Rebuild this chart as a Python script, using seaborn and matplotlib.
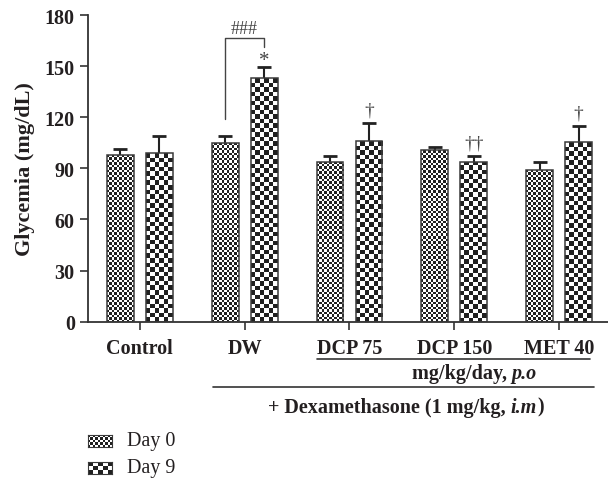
import numpy as np
import pandas as pd
import matplotlib
matplotlib.use('Agg')
import matplotlib.pyplot as plt
import matplotlib.transforms as mtransforms
import seaborn as sns

# ── Data ──────────────────────────────────────────────────────────
groups = ["Control", "DW", "DCP 75", "DCP 150", "MET 40"]
days = ["Day 0", "Day 9"]
day0_mean = [98, 105, 94, 100.5, 89]
day0_err = [3.5, 3.7, 3.5, 2.2, 5.0]
day9_mean = [99, 143, 106, 94, 105.5]
day9_err = [10, 6.5, 10.5, 3.5, 9.5]
day9_marks = ["", "*", "\u2020", "\u2020\u2020", "\u2020"]

df = pd.DataFrame({
    "group": groups * 2,
    "day": [days[0]] * 5 + [days[1]] * 5,
    "glycemia": day0_mean + day9_mean,
})

# ── Style ─────────────────────────────────────────────────────────
sns.set_style("ticks")
plt.rcParams['font.family'] = ['Liberation Serif', 'DejaVu Serif']
TXT = '#231f20'
LINE = '#333333'
MARK = '#444444'

fig = plt.figure(figsize=(6.08, 4.81), dpi=100)
ax = fig.add_axes([88 / 608, (481 - 322.7) / 481, 1 - 88 / 608, 306.7 / 481])

sns.barplot(data=df, x="group", y="glycemia", hue="day", hue_order=days,
            order=groups, errorbar=None, width=0.743, gap=0.31,
            legend=False, ax=ax)

ax.set_ylim(0, 180)
ax.set_xlim(-0.495, 4.467)
ax.set_yticks(np.arange(0, 181, 30))
ax.set_xlabel("")
ax.set_ylabel("Glycemia (mg/dL)", fontsize=16, fontweight='bold', color=TXT, labelpad=7)
ax.tick_params(axis='both', labelsize=14.5, colors=LINE, labelcolor=TXT,
               length=6, width=1.2)
ax.tick_params(axis='x', pad=6)
for lab in ax.get_xticklabels() + ax.get_yticklabels():
    lab.set_fontweight('bold')
for s in ['top', 'right']:
    ax.spines[s].set_visible(False)
for s in ['left', 'bottom']:
    ax.spines[s].set_color(LINE)
    ax.spines[s].set_linewidth(1.3)

fig.canvas.draw()
renderer = fig.canvas.get_renderer()


# ── Fill patterns ─────────────────────────────────────────────────
def checker(ny, nx):
    return (np.add.outer(np.arange(ny), np.arange(nx)) % 2).astype(float)


cells = [2.5, 4.5]   # checker square size in pixels: fine for Day 0, coarse for Day 9


def fill_checker(patch, cell):
    bb = patch.get_window_extent()
    nx = max(1, int(round(bb.width / cell)))
    ny = max(1, int(round(bb.height / cell)))
    x0, y0 = patch.get_x(), patch.get_y()
    w, h = patch.get_width(), patch.get_height()
    im = ax.imshow(checker(ny, nx), cmap='gray', vmin=-0.15, vmax=1,
                   extent=(x0, x0 + w, y0, y0 + h), origin='lower',
                   aspect='auto', interpolation='nearest', zorder=2)
    im.set_clip_path(patch)
    patch.set_facecolor('none')
    patch.set_edgecolor('#3a3a3a')
    patch.set_linewidth(1.1)
    patch.set_zorder(3)


centers = []
for cont, cell in zip(ax.containers, cells):
    xs = []
    for p in cont.patches:
        fill_checker(p, cell)
        xs.append(p.get_x() + p.get_width() / 2)
    centers.append(xs)

ax.set_xlim(-0.495, 4.467)
ax.set_ylim(0, 180)

# error bars (lower half hidden behind bars)
for xs, m, e in [(centers[0], day0_mean, day0_err), (centers[1], day9_mean, day9_err)]:
    ax.errorbar(xs, m, yerr=e, fmt='none', ecolor='#222222', elinewidth=1.5,
                capsize=4.7, capthick=2, zorder=1)

# significance marks
for x, m, e, t in zip(centers[1], day9_mean, day9_err, day9_marks):
    if t == '*':
        ax.text(x, m + e - 2.0, t, ha='center', va='bottom', fontsize=15, color=MARK)
    elif t:
        ax.text(x, m + e + 2.5, t, ha='center', va='bottom', fontsize=14, color=MARK)

# ### bracket on DW
xa, xb = centers[0][1], centers[1][1]
top = day9_mean[1] + day9_err[1] + 17
ax.plot([xa, xa, xb, xb], [day0_mean[1] + day0_err[1] + 10, top, top, top - 5.5],
        color=MARK, lw=1.0, zorder=4)
ax.text((xa + xb) / 2, top + 0.3, "###", ha='center', va='bottom', fontsize=13,
        color=MARK)


# ── Group annotations under the x axis ────────────────────────────
trans = mtransforms.blended_transform_factory(ax.transData, ax.transAxes)


def mixed_text(xc, y, pieces, size=14.5):
    # draw bold pieces side by side (some italic), centred on xc
    arts = [ax.text(0, y, s, transform=trans, ha='left', va='center', fontsize=size,
                    fontweight='bold', fontstyle='italic' if it else 'normal', color=TXT)
            for s, it in pieces]
    widths = [a.get_window_extent(renderer).width for a in arts]
    x_px = ax.transData.transform((xc, 0))[0] - sum(widths) / 2
    for a, w in zip(arts, widths):
        a.set_x(ax.transData.inverted().transform((x_px, 0))[0])
        x_px += w


ax.plot([1.69, 4.30], [-0.122, -0.122], transform=trans, clip_on=False,
        color=LINE, lw=1.2)
ax.plot([0.70, 4.33], [-0.213, -0.213], transform=trans, clip_on=False,
        color=LINE, lw=1.2)
mixed_text(3.19, -0.166, [("mg/kg/day, ", False), ("p.o", True)])
mixed_text(2.54, -0.277, [("+ Dexamethasone (1 mg/kg, ", False), ("i.m", True), (")", False)])

# ── Legend ────────────────────────────────────────────────────────
for i, (label, cell) in enumerate(zip(days, cells)):
    ytop = 436 + i * 27
    sax = fig.add_axes([88 / 608, (481 - ytop - 12) / 481, 24 / 608, 12 / 481])
    sax.imshow(checker(int(round(12 / cell)), int(round(24 / cell))), cmap='gray',
               vmin=-0.15, vmax=1, aspect='auto', interpolation='nearest')
    sax.set_xticks([])
    sax.set_yticks([])
    for s in sax.spines.values():
        s.set_color('#3a3a3a')
        s.set_linewidth(0.8)
    fig.text(127 / 608, (481 - ytop - 6) / 481, label, ha='left', va='center',
             fontsize=14.5, color=TXT)

fig.savefig("out.png", dpi=100)
